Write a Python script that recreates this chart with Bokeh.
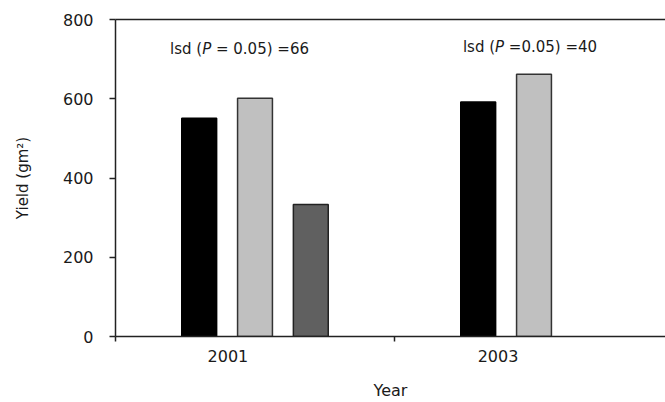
from bokeh.plotting import figure
from bokeh.models import Range1d, FixedTicker, LinearAxis, Label, ColumnDataSource
from bokeh.embed import file_html
from bokeh.resources import INLINE

# ---- data ----
years = ["2001", "2003"]
series_black = [551, 592]
series_light = [601, 662]
series_dark = [333, None]          # no dark bar in 2003
y_ticks = [0, 200, 400, 600, 800]
lsd_texts = [("lsd (", "P", " = 0.05) =66"), ("lsd (", "P", " =0.05) =40")]

# ---- styling helpers ----
FONT = "DejaVu Sans"
TXT = "#1a1a1a"
ADV = {" ": .318, "(": .390, ")": .390, "=": .838, ".": .318, "l": .278, "s": .521,
       "d": .635, "P": .603}
def text_width(s, size):
    return sum(ADV.get(c, .636) for c in s) * size

PX_PER_GROUP = 279.0
frame_w = 550
p = figure(width=665, height=402, output_backend="svg", toolbar_location=None,
           x_range=Range1d(0, frame_w / PX_PER_GROUP), y_range=Range1d(0, 800),
           min_border_left=115, min_border_right=0, min_border_top=19, min_border_bottom=66,
           x_axis_type=None, y_axis_type=None)
p.outline_line_color = None
p.xgrid.visible = False
p.ygrid.visible = False
p.background_fill_color = "white"
p.border_fill_color = "white"

# bars
offsets = [-0.2, 0.0, 0.2]
styles = [("#000000", "#000000"), ("#c0c0c0", "#333333"), ("#606060", "#222222")]
for k, (vals, (fc, lc)) in enumerate(zip([series_black, series_light, series_dark], styles)):
    xs, tops = [], []
    for i, v in enumerate(vals):
        if v is not None:
            xs.append(i + 0.5 + offsets[k])
            tops.append(v)
    src = ColumnDataSource(dict(x=xs, top=tops))
    p.vbar(x="x", top="top", bottom=0, width=0.125, source=src,
           fill_color=fc, line_color=lc, line_width=1.5)

# y axis
yax = LinearAxis(ticker=FixedTicker(ticks=y_ticks, minor_ticks=[]),
                 axis_label="Yield (gm²)")
yax.axis_line_color = "#222222"
yax.axis_line_width = 1.5
yax.major_tick_line_color = "#222222"
yax.major_tick_line_width = 1.5
yax.major_tick_out = 6
yax.major_tick_in = 0
yax.minor_tick_line_color = None
yax.major_label_text_font = FONT
yax.major_label_text_font_size = "16px"
yax.major_label_text_color = TXT
yax.major_label_standoff = 16
yax.axis_label_text_font = FONT
yax.axis_label_text_font_size = "15px"
yax.axis_label_text_font_style = "normal"
yax.axis_label_text_color = TXT
yax.axis_label_standoff = 28
p.add_layout(yax, "left")

# x axis: labels at their own positions, tick marks at group boundaries
label_pos = [0.403, 1.371]
xax = LinearAxis(ticker=FixedTicker(ticks=label_pos, minor_ticks=[0, 1, 2]),
                 axis_label="Year")
xax.major_label_overrides = {pos: yr for pos, yr in zip(label_pos, years)}
xax.axis_line_color = "#222222"
xax.axis_line_width = 1.5
xax.major_tick_line_color = None
xax.major_tick_out = 0
xax.major_tick_in = 0
xax.minor_tick_line_color = "#222222"
xax.minor_tick_line_width = 1.5
xax.minor_tick_out = 5
xax.minor_tick_in = 0
xax.major_label_text_font = FONT
xax.major_label_text_font_size = "16px"
xax.major_label_text_color = TXT
xax.major_label_standoff = 8
xax.axis_label_text_font = FONT
xax.axis_label_text_font_size = "16px"
xax.axis_label_text_font_style = "normal"
xax.axis_label_text_color = TXT
xax.axis_label_standoff = 16
p.add_layout(xax, "below")

# top frame line
tax = LinearAxis(ticker=FixedTicker(ticks=[]))
tax.axis_line_color = "#222222"
tax.axis_line_width = 1.5
tax.major_tick_line_color = None
tax.minor_tick_line_color = None
tax.major_label_text_font_size = "0px"
tax.major_label_standoff = 0
p.add_layout(tax, "above")

# lsd annotations (italic P); leading spaces become offsets
LSD_SIZE = 15
centers_px = [239 - 115, 529.5 - 115]
y_vals = [725, 730]
for (a, b, c), cx, yv in zip(lsd_texts, centers_px, y_vals):
    wa, wb, wc = text_width(a, LSD_SIZE), text_width(b, LSD_SIZE), text_width(c, LSD_SIZE)
    start = (cx - (wa + wb + wc) / 2) / PX_PER_GROUP
    c_stripped = c.lstrip(" ")
    lead = text_width(c[:len(c) - len(c_stripped)], LSD_SIZE)
    for txt, off, style in [(a, 0, "normal"), (b, wa, "italic"),
                            (c_stripped, wa + wb + lead, "normal")]:
        p.add_layout(Label(x=start, y=yv, x_offset=off, text=txt, text_font=FONT,
                           text_font_size=f"{LSD_SIZE}px", text_font_style=style,
                           text_color=TXT, text_baseline="middle", text_align="left"))

open("out.html", "w").write(file_html(p, INLINE))
